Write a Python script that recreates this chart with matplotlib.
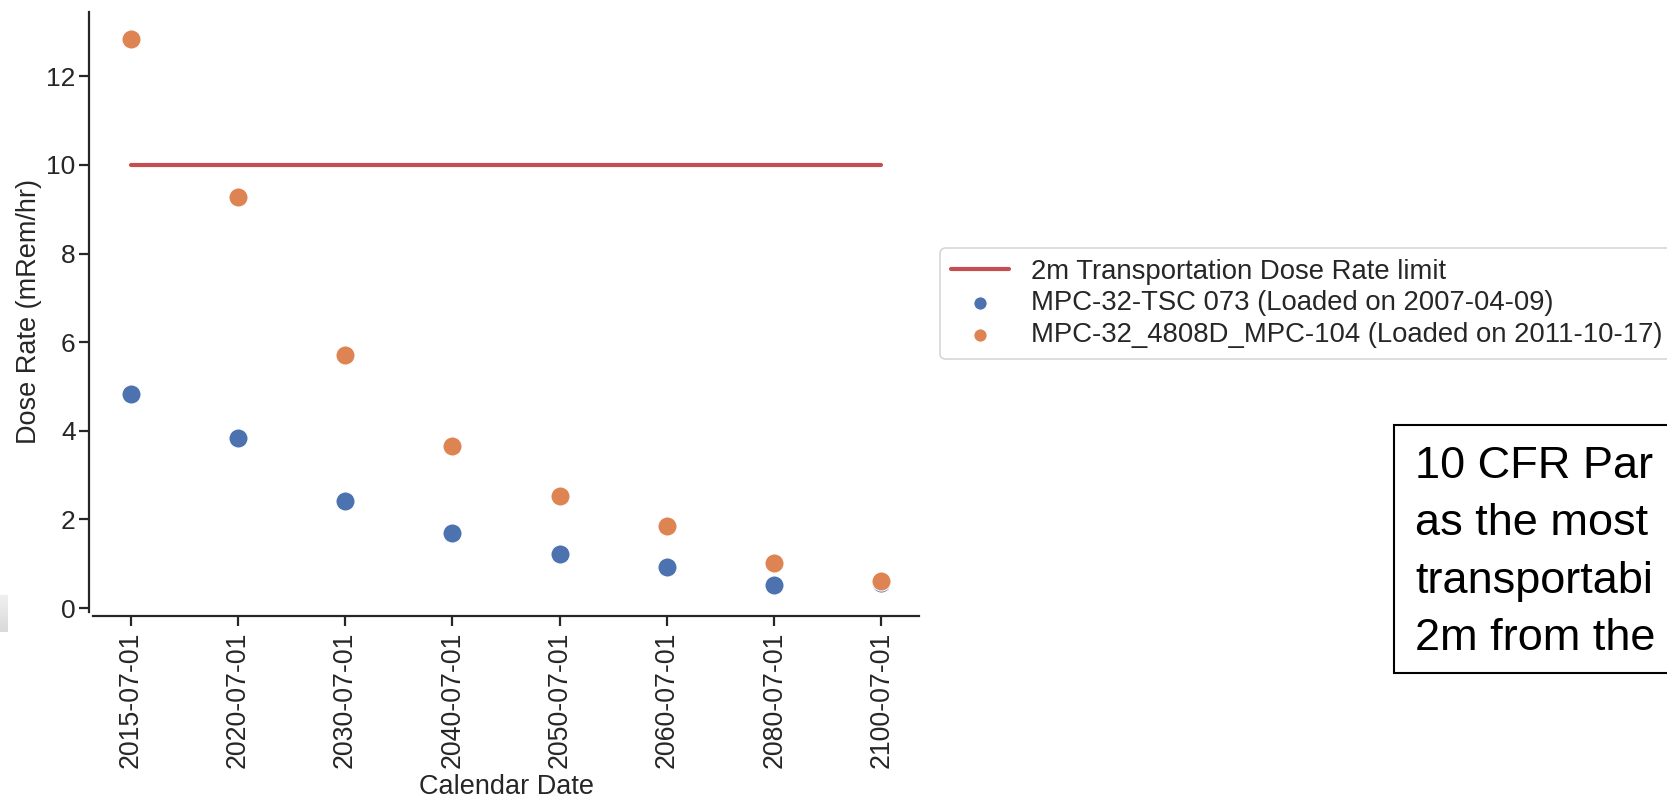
import numpy as np
import matplotlib
matplotlib.use("Agg")
import matplotlib.pyplot as plt
from matplotlib.patches import Rectangle

plt.rcParams['font.family'] = ['Liberation Sans', 'DejaVu Sans']

# Calendar dates at which the dose rate was evaluated
dates = ["2015-07-01", "2020-07-01", "2030-07-01", "2040-07-01",
         "2050-07-01", "2060-07-01", "2080-07-01", "2100-07-01"]

# Dose rate at 2 m (mRem/hr) for each canister
tsc_073 = [4.83, 3.83, 2.42, 1.69, 1.23, 0.93, 0.53, 0.57]
mpc_104 = [12.83, 9.27, 5.72, 3.65, 2.53, 1.86, 1.01, 0.62]

# Regulatory limit
dose_limit = 10.0

limit_label = "2m Transportation Dose Rate limit"
tsc_label = "MPC-32-TSC 073 (Loaded on 2007-04-09)"
mpc_label = "MPC-32_4808D_MPC-104 (Loaded on 2011-10-17)"

note_lines = ["10 CFR Par", "as the most", "transportabi", "2m from the"]

RED = "#C44E52"
BLUE = "#4C72B0"
ORANGE = "#DD8452"
INK = "#262626"

W, H = 1667, 797
fig = plt.figure(figsize=(W / 100, H / 100), dpi=100)
ax = fig.add_axes([93 / W, 1 - 612 / H, (919 - 93) / W, (612 - 12) / H])

# register the date categories in order before drawing anything
ax.xaxis.update_units(dates)

line, = ax.plot([dates[0], dates[-1]], [dose_limit, dose_limit], color=RED,
                lw=3, solid_capstyle="round", label=limit_label, zorder=2)
sc1 = ax.scatter(dates, tsc_073, s=190, color=BLUE, edgecolor="white",
                 linewidth=0.8, label=tsc_label, zorder=3)
sc2 = ax.scatter(dates, mpc_104, s=190, color=ORANGE, edgecolor="white",
                 linewidth=0.8, label=mpc_label, zorder=4)

ax.set_xlim(-0.35, 7.35)
ax.set_ylim(-0.09, 13.45)
ax.set_yticks([0, 2, 4, 6, 8, 10, 12])

for side in ("top", "right"):
    ax.spines[side].set_visible(False)
for side in ("left", "bottom"):
    ax.spines[side].set_position(("outward", 3))
    ax.spines[side].set_linewidth(1.6)
    ax.spines[side].set_color(INK)

ax.tick_params(axis="both", length=7, width=1.6, color=INK,
               labelcolor=INK, labelsize=19)
ax.tick_params(axis="y", pad=2.5)
ax.tick_params(axis="x", pad=4, labelrotation=90, labelsize=19.3)

ax.set_ylabel("Dose Rate (mRem/hr)", fontsize=19.5, color=INK)
ax.set_xlabel("Calendar Date", fontsize=19.5, color=INK)
ax.yaxis.set_label_coords(-0.062, 0.5)
ax.xaxis.set_label_coords(0.5, -0.27)

leg = ax.legend(handles=[line, sc1, sc2], loc="upper left",
                bbox_to_anchor=(940 / W, 1 - 248 / H),
                bbox_transform=fig.transFigure, fontsize=19.8,
                markerscale=0.7, labelspacing=0.2, handlelength=2.1,
                frameon=True, fancybox=True, borderaxespad=0)
leg.get_frame().set_edgecolor("#cccccc")
leg.get_frame().set_linewidth(1.2)
for t in leg.get_texts():
    t.set_color(INK)

# Note box on the right
fig.patches.append(Rectangle((1394 / W, 1 - 673 / H), (W + 20 - 1394) / W,
                             (673 - 425) / H, transform=fig.transFigure,
                             facecolor="white", edgecolor="black",
                             linewidth=1.5, zorder=1))
for i, txt in enumerate(note_lines):
    fig.text(1415 / W, 1 - (478 + 57.3 * i) / H, txt, fontsize=32.5,
             color="black", ha="left", va="baseline", zorder=2)

# Small grey shadow strip at the left edge
gax = fig.add_axes([0, 1 - 632 / H, 8 / W, 37 / H])
grad = np.linspace(0, 1, 64).reshape(-1, 1)
gax.imshow(grad, aspect="auto", cmap="Greys", vmin=-1.0, vmax=7.0,
           interpolation="bilinear")
gax.set_axis_off()

fig.savefig("out.png", dpi=100)
